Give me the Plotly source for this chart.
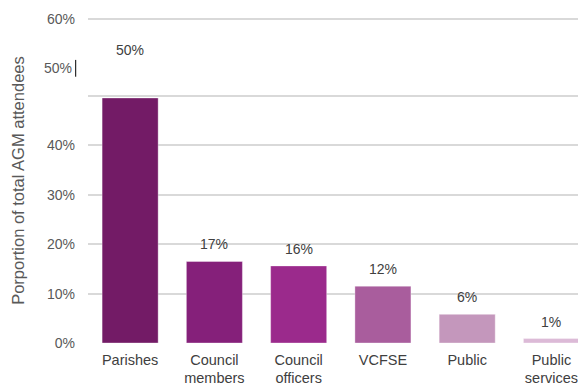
import plotly.graph_objects as go

categories = ["Parishes", "Council<br>members", "Council<br>officers", "VCFSE", "Public", "Public<br>services"]
values = [49.6, 16.5, 15.6, 11.5, 5.8, 0.9]
value_labels = ["50%", "17%", "16%", "12%", "6%", "1%"]
colors = ["#731B66", "#85207A", "#9B2A8C", "#A95D9D", "#C497BC", "#DCBAD7"]
tick_vals = [0, 10, 20, 30, 40, 50, 65.55]
tick_text = ["0%", "10%", "20%", "30%", "40%", "", "60%"]
break_label = "50%"
break_label_value = 55.6
label_shifts = [38, 7, 7, 7, 7, 7]

PW = 498  # plot width in px

fig = go.Figure()
fig.add_trace(go.Bar(
    x=list(range(len(categories))),
    y=values,
    marker=dict(color=colors, line=dict(color="rgba(255,255,255,0.35)", width=1)),
    hoverinfo="skip",
))

for i, (v, t, s) in enumerate(zip(values, value_labels, label_shifts)):
    fig.add_annotation(x=i, y=v, text=t, showarrow=False, yanchor="bottom",
                       yshift=s, font=dict(family="Liberation Sans", size=14, color="#404040"))

# break-style label on y axis
fig.add_annotation(xref="paper", yref="y", x=-14 / PW, y=break_label_value, text=break_label,
                   showarrow=False, xanchor="right", yanchor="middle",
                   font=dict(family="Liberation Sans", size=14, color="#595959"))
fig.add_shape(type="line", xref="paper", yref="y", x0=-12.3 / PW, x1=-12.3 / PW,
              y0=break_label_value - 1.7, y1=break_label_value + 1.7,
              line=dict(color="#000000", width=1))

# top gridline (ensure drawn)
fig.add_shape(type="line", xref="paper", yref="y", x0=0, x1=1, y0=tick_vals[-1], y1=tick_vals[-1],
              line=dict(color="#d9d9d9", width=1.5), layer="below")

fig.add_annotation(xref="paper", yref="paper", x=-70 / PW, y=0.49, text="Porportion of total AGM attendees",
                   textangle=-90, showarrow=False, xanchor="center", yanchor="middle",
                   font=dict(family="Liberation Sans", size=16.5, color="#595959"))

fig.update_layout(
    width=578, height=380,
    margin=dict(l=80, r=0, t=4, b=45, autoexpand=False),
    plot_bgcolor="white", paper_bgcolor="white",
    showlegend=False,
    bargap=0.335,
    font=dict(family="Liberation Sans", size=14, color="#595959"),
    xaxis=dict(
        tickmode="array", tickvals=list(range(len(categories))), ticktext=categories,
        range=[-0.5, 5.41], showgrid=False, zeroline=False, showline=False,
        tickfont=dict(family="Liberation Sans", size=14.5, color="#404040"),
        ticks="", fixedrange=True, automargin=False, ticklabelstandoff=6,
    ),
    yaxis=dict(
        range=[0, 67], tickmode="array", tickvals=tick_vals, ticktext=tick_text,
        showgrid=True, gridcolor="#d9d9d9", gridwidth=1.5, zeroline=False, showline=False,
        tickfont=dict(family="Liberation Sans", size=14, color="#595959"),
        ticks="", ticklabelstandoff=12, automargin=False,
    ),
)

fig.write_html("out.html")
